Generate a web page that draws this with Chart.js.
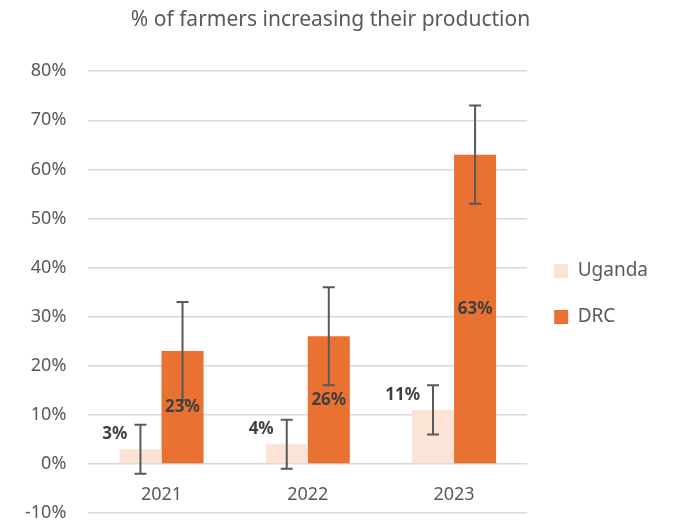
<!DOCTYPE html>
<html>
<head>
<meta charset="utf-8">
<script src="https://cdn.jsdelivr.net/npm/chart.js@4/dist/chart.umd.min.js"></script>
<style>
  body { margin: 0; background: #fff; }
  #wrap { width: 680px; height: 522px; }
</style>
</head>
<body>
<div id="wrap"><canvas id="chart" width="680" height="522"></canvas></div>
<script>
// данные графика
const years = ['2021', '2022', '2023'];
const uganda = [3, 4, 11];
const drc = [23, 26, 63];
const ugandaErr = [5, 5, 5];
const drcErr = [10, 10, 10];
const yTicks = [-10, 0, 10, 20, 30, 40, 50, 60, 70, 80];

const fontName = "'Noto Sans', sans-serif";
const textGrey = '#595959';

// усы погрешностей и подписи значений
const errorBarsPlugin = {
    id: 'errorBars',
    afterDatasetsDraw(chart) {
        const ctx = chart.ctx;
        const y = chart.scales.y;
        const errs = [ugandaErr, drcErr];
        ctx.save();
        chart.data.datasets.forEach(function (ds, di) {
            const meta = chart.getDatasetMeta(di);
            meta.data.forEach(function (bar, i) {
                const v = ds.data[i];
                const e = errs[di][i];
                const top = y.getPixelForValue(v + e);
                const bottom = y.getPixelForValue(v - e);
                ctx.strokeStyle = '#595959';
                ctx.lineWidth = 2;
                ctx.beginPath();
                ctx.moveTo(bar.x, top);
                ctx.lineTo(bar.x, bottom);
                ctx.moveTo(bar.x - 6, top);
                ctx.lineTo(bar.x + 6, top);
                ctx.moveTo(bar.x - 6, bottom);
                ctx.lineTo(bar.x + 6, bottom);
                ctx.stroke();

                ctx.fillStyle = '#404040';
                ctx.font = 'bold 17px ' + fontName;
                ctx.textBaseline = 'middle';
                if (di === 0) {
                    ctx.textAlign = 'right';
                    ctx.fillText(v + '%', bar.x - bar.width / 2 + 8, bar.y - 15);
                } else {
                    ctx.textAlign = 'center';
                    ctx.fillText(v + '%', bar.x, (bar.y + bar.base) / 2);
                }
            });
        });
        ctx.restore();
    }
};

const ctx = document.getElementById('chart').getContext('2d');

const chart = new Chart(ctx, {
    type: 'bar',
    data: {
        labels: years,
        datasets: [{
            label: 'Uganda',
            data: uganda,
            backgroundColor: '#FBE3D6',
            categoryPercentage: 0.575,
            barPercentage: 1
        }, {
            label: 'DRC',
            data: drc,
            backgroundColor: '#E97132',
            categoryPercentage: 0.575,
            barPercentage: 1
        }]
    },
    options: {
        responsive: false,
        animation: false,
        layout: { padding: { left: 3, right: 22, top: 0, bottom: 0 } },
        plugins: {
            title: {
                display: true,
                text: '% of farmers increasing their production',
                color: textGrey,
                font: { family: fontName, size: 21, weight: 'normal' },
                padding: { top: 7, bottom: 39 }
            },
            legend: {
                position: 'right',
                // пустой заголовок легенды - сдвигает пункты вниз
                title: {
                    display: true,
                    text: ' ',
                    font: { family: fontName, size: 19 },
                    padding: { top: 0, bottom: 43 }
                },
                labels: {
                    color: textGrey,
                    font: { family: fontName, size: 19 },
                    boxWidth: 14,
                    boxHeight: 14,
                    padding: 27
                }
            },
            tooltip: { enabled: false }
        },
        scales: {
            x: {
                position: { y: 0 },
                grid: { display: false, drawTicks: false },
                border: { display: false },
                afterFit(scale) { scale.height = 0; },
                ticks: {
                    color: textGrey,
                    font: { family: fontName, size: 18 },
                    padding: 20
                }
            },
            y: {
                min: -10,
                max: 80,
                afterBuildTicks(scale) {
                    scale.ticks = yTicks.map(function (v) { return { value: v }; });
                },
                // отступ подписей не должен съедать место снизу
                afterFit(scale) { scale.paddingBottom = 9; },
                grid: { color: '#D9D9D9', lineWidth: 1.5, drawTicks: false },
                border: { display: false },
                ticks: {
                    color: textGrey,
                    font: { family: fontName, size: 18 },
                    padding: 22,
                    callback: function (v) { return v + '%'; }
                }
            }
        }
    },
    plugins: [errorBarsPlugin]
});
</script>
</body>
</html>
